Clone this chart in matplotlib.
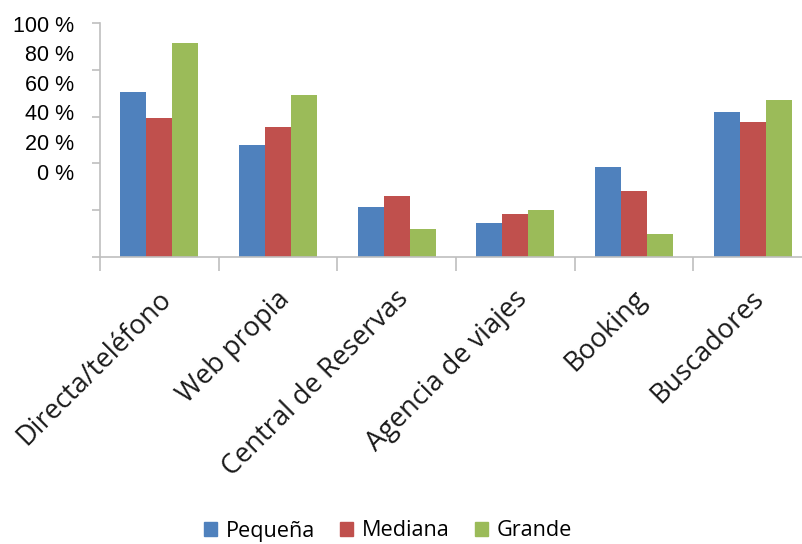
import numpy as np
import matplotlib.pyplot as plt
from matplotlib.patches import Patch

categories = ['Directa/teléfono', 'Web propia', 'Central de Reservas',
              'Agencia de viajes', 'Booking', 'Buscadores']
pequena = [70.5, 47.9, 21.4, 14.5, 38.5, 62.0]
mediana = [59.4, 55.6, 26.1, 18.4, 28.2, 57.7]
grande = [91.5, 69.2, 12.0, 20.1, 9.8, 67.1]
series_names = ['Pequeña', 'Mediana', 'Grande']
ytick_labels = ['100 %', '80 %', '60 %', '40 %', '20 %', '0 %']

colors = ['#4F81BD', '#C0504D', '#9BBB59']
axis_color = '#BFBFBF'

fig = plt.figure(figsize=(8.03, 5.44), dpi=100)
# axes run past the right edge, as in the original crop
ax = fig.add_axes([100/803, 287/544, 712/803, 234/544])

x = np.arange(len(categories))
w = 0.219
for i, vals in enumerate([pequena, mediana, grande]):
    ax.bar(x + (i - 1) * w, vals, width=w, color=colors[i], label=series_names[i])

ax.set_xlim(-0.5, len(categories) - 0.5)
ax.set_ylim(0, 100)
ax.set_yticks(np.arange(0, 101, 20))
ax.set_yticklabels([])
ax.set_xticks(np.arange(-0.5, len(categories) - 0.4, 1))
ax.set_xticklabels([])
ax.tick_params(axis='y', length=6, width=1.2, color=axis_color)
ax.tick_params(axis='x', length=10, width=1.2, color=axis_color)

for s in ['top', 'right']:
    ax.spines[s].set_visible(False)
for s in ['left', 'bottom']:
    ax.spines[s].set_color(axis_color)
    ax.spines[s].set_linewidth(1.2)

# y labels sit on a tighter spacing than the ticks in the original
for i, lab in enumerate(ytick_labels):
    ax.text(-0.037, 0.987 - i * 0.1265, lab, transform=ax.transAxes,
            ha='right', va='center', fontsize=15.5, family='Liberation Sans')

for xi, cat in zip(x, categories):
    ax.text(xi - 0.02, -12, cat, rotation=45, rotation_mode='anchor',
            ha='right', va='top', fontsize=19.5, family='Open Sans', color='#1a1a1a')

handles = [Patch(color=c) for c in colors]
fig.legend(handles, series_names, loc='center', bbox_to_anchor=(388/803, 1 - 531/544),
           ncol=3, frameon=False, prop={'family': 'Open Sans', 'size': 15.6},
           handlelength=0.6, handleheight=0.6, handletextpad=0.4, columnspacing=1.15,
           borderpad=0.1)

fig.savefig('out.png', dpi=100)
